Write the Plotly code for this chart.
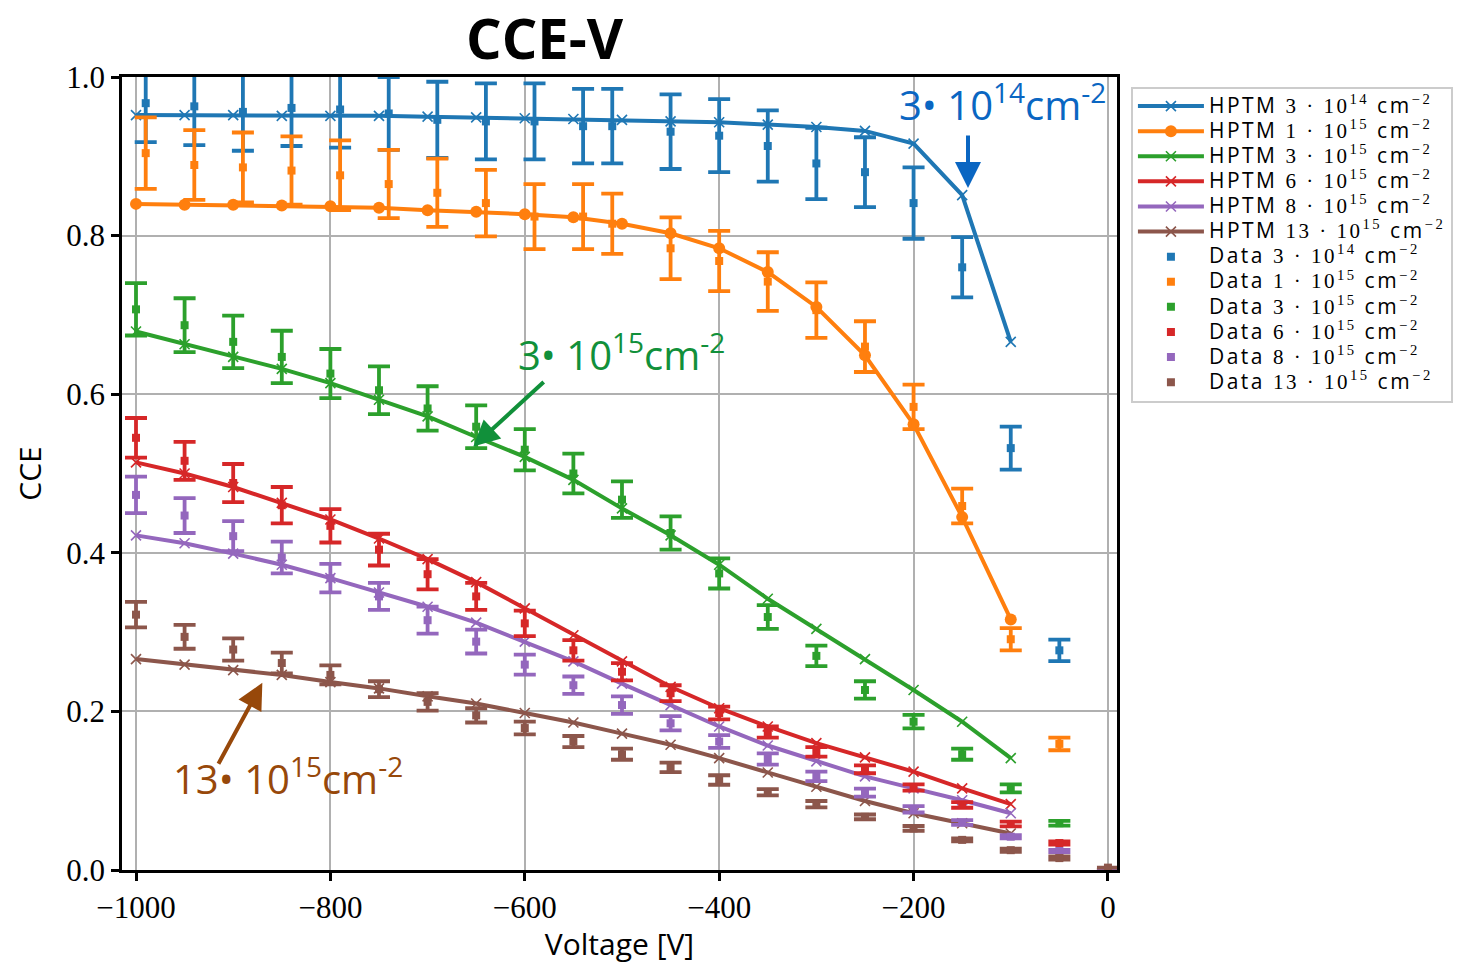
import plotly.graph_objects as go

# Simulation (HPTM) voltages and CCE curves
v_sim = [-1000, -950, -900, -850, -800, -750, -700, -650, -600, -550,
         -500, -450, -400, -350, -300, -250, -200, -150, -100]

hptm_3e14 = [0.952, 0.952, 0.952, 0.951, 0.951, 0.951, 0.950, 0.949, 0.948, 0.947,
             0.946, 0.944, 0.943, 0.940, 0.937, 0.932, 0.916, 0.851, 0.666]
hptm_1e15 = [0.840, 0.839, 0.839, 0.838, 0.837, 0.835, 0.832, 0.830, 0.827, 0.823,
             0.815, 0.803, 0.784, 0.754, 0.710, 0.649, 0.562, 0.445, 0.316]
hptm_3e15 = [0.679, 0.663, 0.647, 0.632, 0.614, 0.593, 0.572, 0.546, 0.521, 0.492,
             0.456, 0.422, 0.385, 0.342, 0.304, 0.266, 0.227, 0.187, 0.141]
hptm_6e15 = [0.514, 0.500, 0.483, 0.463, 0.442, 0.418, 0.392, 0.363, 0.330, 0.296,
             0.263, 0.231, 0.204, 0.181, 0.160, 0.142, 0.124, 0.103, 0.083]
hptm_8e15 = [0.422, 0.412, 0.399, 0.385, 0.368, 0.350, 0.332, 0.312, 0.288, 0.263,
             0.235, 0.208, 0.181, 0.157, 0.137, 0.118, 0.103, 0.088, 0.0715]
hptm_13e15 = [0.266, 0.259, 0.252, 0.246, 0.237, 0.229, 0.219, 0.210, 0.198, 0.186,
              0.172, 0.158, 0.141, 0.123, 0.105, 0.087, 0.0715, 0.059, 0.046]

# Measured data: low-fluence samples
v_meas_a = [-990, -940, -890, -840, -790, -740, -690, -640, -590, -540,
            -510, -450, -400, -350, -300, -250, -200, -150, -100, -50]
data_3e14 = [0.967, 0.963, 0.956, 0.961, 0.959, 0.954, 0.946, 0.944, 0.944, 0.938,
             0.938, 0.931, 0.926, 0.913, 0.891, 0.880, 0.841, 0.760, 0.532, 0.277]
err_3e14 = [0.049, 0.049, 0.049, 0.048, 0.048, 0.046, 0.048, 0.048, 0.048, 0.047,
            0.047, 0.047, 0.046, 0.045, 0.045, 0.044, 0.045, 0.038, 0.027, 0.0135]
data_1e15 = [0.904, 0.889, 0.886, 0.882, 0.876, 0.865, 0.854, 0.841, 0.824, 0.824,
             0.815, 0.784, 0.768, 0.742, 0.706, 0.660, 0.584, 0.459, 0.291, 0.159]
err_1e15 = [0.045, 0.044, 0.044, 0.043, 0.044, 0.043, 0.043, 0.042, 0.041, 0.041,
            0.038, 0.039, 0.038, 0.037, 0.035, 0.032, 0.028, 0.022, 0.014, 0.008]

# Measured data: high-fluence samples
v_meas_b = [-1000, -950, -900, -850, -800, -750, -700, -650, -600, -550,
            -500, -450, -400, -350, -300, -250, -200, -150, -100, -50, 0]
data_3e15 = [0.707, 0.687, 0.666, 0.647, 0.626, 0.605, 0.582, 0.559, 0.530, 0.500,
             0.467, 0.425, 0.374, 0.319, 0.270, 0.227, 0.187, 0.146, 0.103, 0.059, 0.0]
err_3e15 = [0.033, 0.034, 0.033, 0.033, 0.031, 0.030, 0.028, 0.027, 0.026, 0.025,
            0.023, 0.021, 0.019, 0.015, 0.013, 0.011, 0.0085, 0.007, 0.005, 0.003, 0.0]
data_6e15 = [0.545, 0.516, 0.488, 0.460, 0.434, 0.404, 0.373, 0.345, 0.311, 0.277,
             0.250, 0.223, 0.198, 0.174, 0.149, 0.127, 0.104, 0.082, 0.058, 0.034, 0.0]
err_6e15 = [0.025, 0.024, 0.024, 0.023, 0.021, 0.020, 0.019, 0.017, 0.016, 0.013,
            0.011, 0.010, 0.008, 0.007, 0.006, 0.005, 0.004, 0.0035, 0.003, 0.002, 0.0]
data_8e15 = [0.473, 0.447, 0.421, 0.394, 0.368, 0.345, 0.315, 0.288, 0.259, 0.233,
             0.208, 0.185, 0.162, 0.140, 0.118, 0.0975, 0.0765, 0.060, 0.042, 0.024, 0.0]
err_8e15 = [0.023, 0.022, 0.019, 0.020, 0.018, 0.017, 0.017, 0.015, 0.0125, 0.011,
            0.011, 0.009, 0.008, 0.007, 0.006, 0.005, 0.004, 0.003, 0.002, 0.0015, 0.0]
data_13e15 = [0.322, 0.294, 0.278, 0.261, 0.246, 0.228, 0.212, 0.195, 0.179, 0.162,
              0.146, 0.1295, 0.1135, 0.098, 0.083, 0.067, 0.0525, 0.038, 0.025, 0.015, 0.003]
err_13e15 = [0.016, 0.015, 0.014, 0.013, 0.012, 0.010, 0.011, 0.009, 0.008, 0.007,
             0.007, 0.006, 0.006, 0.004, 0.004, 0.003, 0.003, 0.002, 0.002, 0.002, 0.0]

fluences = [("3", "14"), ("1", "15"), ("3", "15"), ("6", "15"), ("8", "15"), ("13", "15")]

colors = ["#1f77b4", "#ff7f0e", "#2ca02c", "#d62728", "#9467bd", "#8c564b"]

SERIF = "Liberation Serif"
SANS = "Open Sans"


def flu(prefix, coef, exp):
    serif = f"font-family:'{SERIF}'"
    return (f"<span style=\"font-size:21px;letter-spacing:2.5px\">{prefix} "
            f"<span style=\"{serif}\">{coef} · 10<sup>{exp}</sup></span>"
            f" cm<sup><span style=\"{serif}\">−2</span></sup></span>")


sim_curves = [hptm_3e14, hptm_1e15, hptm_3e15, hptm_6e15, hptm_8e15, hptm_13e15]
meas = [
    (v_meas_a, data_3e14, err_3e14),
    (v_meas_a, data_1e15, err_1e15),
    (v_meas_b, data_3e15, err_3e15),
    (v_meas_b, data_6e15, err_6e15),
    (v_meas_b, data_8e15, err_8e15),
    (v_meas_b, data_13e15, err_13e15),
]

fig = go.Figure()

for i, (curve, (c, e)) in enumerate(zip(sim_curves, fluences)):
    if i == 1:
        marker = dict(symbol="circle", size=12, color=colors[i])
    else:
        marker = dict(symbol="x-thin", size=10, color=colors[i],
                      line=dict(width=1.6, color=colors[i]))
    fig.add_trace(go.Scatter(
        x=v_sim, y=curve, mode="lines+markers", name=flu("HPTM", c, e),
        line=dict(color=colors[i], width=4), marker=marker,
    ))

for i, ((vx, vy, ve), (c, e)) in enumerate(zip(meas, fluences)):
    fig.add_trace(go.Scatter(
        x=vx, y=vy, mode="markers", name=flu("Data", c, e),
        marker=dict(symbol="square", size=8, color=colors[i]),
        error_y=dict(type="data", array=ve, visible=True, color=colors[i],
                     thickness=3.8, width=11),
    ))

grid = "#b0b0b0"
fig.update_xaxes(
    range=[-1014.4, 9.3], tickvals=[-1000, -800, -600, -400, -200, 0],
    showgrid=True, gridcolor=grid, gridwidth=2, zeroline=False,
    showline=True, linecolor="black", linewidth=2.5, mirror=True,
    ticks="outside", ticklen=8, tickwidth=2.5, tickcolor="black",
    tickfont=dict(family=SERIF, size=31, color="black"),
    title=dict(text="Voltage [V]", font=dict(family=SANS, size=30, color="black"), standoff=12),
    automargin=False,
)
fig.update_yaxes(
    range=[0, 1], tickvals=[0, 0.2, 0.4, 0.6, 0.8, 1.0], tickformat=".1f",
    showgrid=True, gridcolor=grid, gridwidth=2, zeroline=False,
    showline=True, linecolor="black", linewidth=2.5, mirror=True,
    ticks="outside", ticklen=8, tickwidth=2.5, tickcolor="black",
    tickfont=dict(family=SERIF, size=31, color="black"),
    title=dict(text="CCE", font=dict(family=SANS, size=30, color="black"), standoff=16),
    automargin=False,
)

# fluence labels with pointer arrows
labels = [
    ("3• 10<sup>14</sup>cm<sup>-2</sup>", -109, 0.968, "#0a66c2", (-144, 0.86), (-144, 0.928)),
    ("3• 10<sup>15</sup>cm<sup>-2</sup>", -500, 0.652, "#11903a", (-653, 0.534), (-579, 0.617)),
    ("13• 10<sup>15</sup>cm<sup>-2</sup>", -844, 0.118, "#97480a", (-870, 0.236), (-916, 0.132)),
]
for text, tx, ty, col, head, tail in labels:
    fig.add_annotation(text=text, x=tx, y=ty, xref="x", yref="y", showarrow=False,
                       font=dict(family=SANS, size=40, color=col))
    fig.add_annotation(x=head[0], y=head[1], ax=tail[0], ay=tail[1],
                       xref="x", yref="y", axref="x", ayref="y", text="",
                       showarrow=True, arrowhead=2, arrowsize=1.3, arrowwidth=4,
                       arrowcolor=col)

# chart title
fig.add_annotation(text="<b>CCE-V</b>", x=(545 - 122) / 995, y=1 + (77 - 37) / 793,
                   xref="paper", yref="paper", yanchor="middle", showarrow=False,
                   font=dict(family=SANS, size=56, color="black"))

fig.update_layout(
    width=1468, height=964,
    margin=dict(l=122, r=351, t=77, b=94),
    paper_bgcolor="white", plot_bgcolor="white",
    showlegend=True,
    legend=dict(
        x=1.014, y=0.988, xanchor="left", yanchor="top",
        bordercolor="#cccccc", borderwidth=2, bgcolor="white",
        font=dict(family=SANS, size=17, color="black"),
        itemwidth=66, tracegroupgap=0,
    ),
)

fig.write_html("out.html")
